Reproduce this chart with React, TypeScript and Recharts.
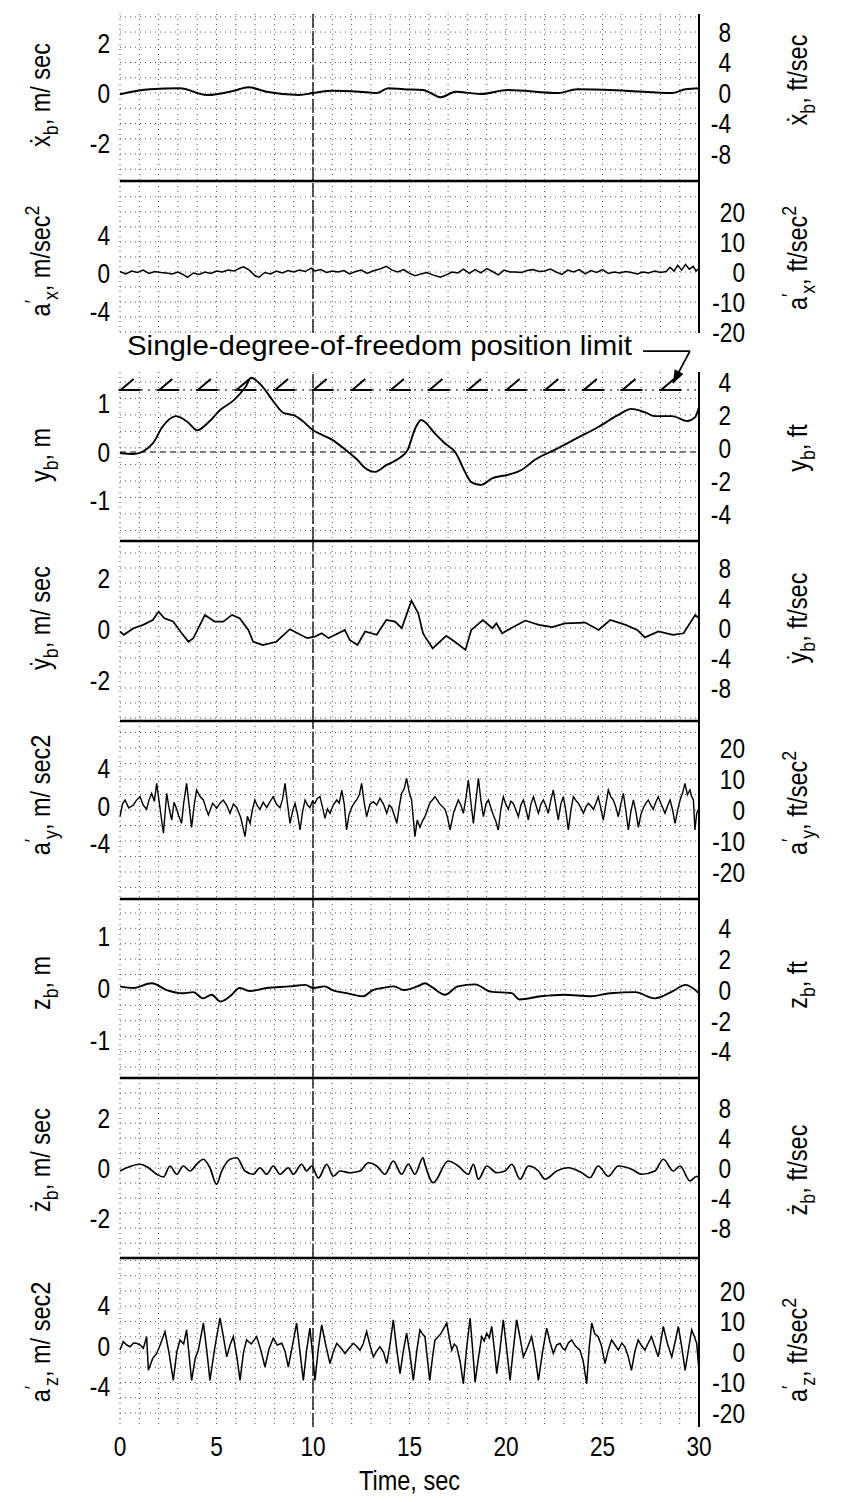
import React from 'react';
import { LineChart, Line, XAxis, YAxis, CartesianGrid, ReferenceLine } from 'recharts';

const FONT = '"Liberation Sans", Arial, sans-serif';
const TICK_FS = 27;
const TITLE_FS = 28;
const SQUEEZE = 0.84; // narrow the glyphs like the condensed type of the original

// time axis
const timeTicks = [0, 5, 10, 15, 20, 25, 30];
const secondLines = Array.from({ length: 31 }, (_, i) => i);

// x-dot body, m/sec
const xbDot: [number, number][] = [
  [0, -0.05], [1.55, 0.15], [3.1, 0.19], [4.5, -0.08], [5.9, 0.09], [6.65, 0.23], [7.6, 0.05],
  [9.3, -0.08], [10, 0], [11, 0.09], [12.4, 0.05], [13.3, 0], [13.9, 0.19], [14.7, 0.15],
  [15.7, 0.12], [16.1, 0.0], [16.6, -0.17], [17.4, 0.05], [18.7, -0.04], [20.1, 0.12], [22.7, 0],
  [23.7, 0.15], [26.2, 0.09], [28.6, 0], [29.3, 0.15], [30, 0.19],
];

// a'x, m/sec^2
const axPrime: [number, number][] = [
  [0, 0.15], [0.3, -0.1], [0.6, 0.2], [0.9, 0.05], [1.2, 0.3], [1.5, -0.05], [1.8, 0.15], [2.1, 0.05],
  [2.4, 0.0], [2.7, -0.1], [3.0, 0.1], [3.3, -0.2], [3.5, -0.45], [3.8, 0.0], [4.1, -0.15], [4.4, 0.1],
  [4.7, -0.05], [5.0, 0.2], [5.3, 0.1], [5.6, 0.3], [5.9, 0.2], [6.2, 0.5], [6.4, 0.65], [6.7, 0.3],
  [7.0, -0.3], [7.2, -0.45], [7.5, 0.05], [7.8, -0.1], [8.1, 0.2], [8.4, 0.0], [8.7, 0.25], [9.0, 0.1],
  [9.3, 0.3], [9.6, 0.15], [9.9, 0.5], [10.1, 0.2], [10.4, 0.35], [10.7, 0.05], [11.0, 0.2], [11.3, 0.1],
  [11.6, 0.25], [11.9, -0.1], [12.2, 0.15], [12.5, 0.3], [12.8, -0.05], [13.1, 0.2], [13.5, 0.45],
  [13.8, 0.7], [14.1, 0.3], [14.4, 0.1], [14.7, 0.35], [15.0, -0.05], [15.3, -0.3], [15.6, -0.1],
  [15.9, 0.05], [16.2, -0.2], [16.6, -0.45], [16.9, -0.2], [17.2, 0.1], [17.5, 0.0], [17.8, 0.4],
  [18.1, -0.05], [18.4, 0.35], [18.7, 0.0], [19.0, 0.45], [19.3, 0.15], [19.6, -0.2], [19.9, 0.3],
  [20.2, 0.1], [20.5, 0.1], [20.8, 0.05], [21.1, 0.25], [21.4, 0.35], [21.7, 0.15], [22.0, 0.2],
  [22.3, 0.4], [22.6, 0.1], [22.9, -0.15], [23.2, 0.3], [23.5, 0.1], [23.8, 0.35], [24.1, -0.1],
  [24.4, 0.25], [24.7, 0.05], [25.0, 0.35], [25.3, -0.05], [25.6, 0.1], [25.9, 0.0], [26.2, 0.15],
  [26.5, 0.05], [26.8, -0.1], [27.1, 0.1], [27.4, 0.0], [27.7, 0.2], [28.0, 0.05], [28.3, 0.15],
  [28.5, 0.6], [28.7, 0.2], [28.9, 0.8], [29.1, 0.3], [29.3, 0.9], [29.5, 0.4], [29.7, 0.7],
  [29.85, 0.2], [30, 0.5],
];

// y body, m
const yb: [number, number][] = [
  [0, -0.02], [0.7, -0.04], [1.7, 0.18], [2.2, 0.52], [2.9, 0.74], [3.5, 0.62], [4.0, 0.45],
  [4.6, 0.62], [5.2, 0.87], [5.9, 1.07], [6.5, 1.34], [6.8, 1.53], [7.4, 1.34], [7.9, 1.07],
  [8.5, 0.8], [9.0, 0.76], [9.4, 0.66], [10.0, 0.45], [10.5, 0.35], [11.0, 0.25], [11.7, 0.04],
  [12.3, -0.16], [12.7, -0.33], [13.2, -0.41], [13.8, -0.27], [14.5, -0.12], [14.9, 0.04],
  [15.3, 0.49], [15.6, 0.66], [15.8, 0.62], [16.3, 0.39], [16.8, 0.19], [17.4, -0.02],
  [17.9, -0.43], [18.2, -0.62], [18.7, -0.68], [19.3, -0.54], [20.1, -0.47], [20.8, -0.37],
  [21.5, -0.16], [22.7, 0.08], [23.7, 0.29], [24.8, 0.52], [25.8, 0.76], [26.5, 0.89], [27.2, 0.82],
  [27.7, 0.74], [28.6, 0.74], [29.4, 0.64], [29.8, 0.72], [30, 0.93],
];

// single-degree-of-freedom position limit
const limitValue = 1.28;
const limitTimes = [0.5, 2.5, 4.5, 6.5, 8.5, 10.5, 12.5, 14.5, 16.5, 18.5, 20.5, 22.5, 24.5, 26.5, 28.5];
const limitLeader = [{ x: 27.1, y: 2.08 }, { x: 29.53, y: 2.08 }];
const limitArrow = [{ x: 29.53, y: 2.08 }, { x: 28.65, y: 1.42 }];

// y-dot body, m/sec
const ybDot: [number, number][] = [
  [0, -0.1], [0.2, -0.23], [0.7, 0.03], [1.2, 0.16], [1.7, 0.35], [2.0, 0.68], [2.3, 0.42],
  [2.75, 0.29], [3.2, -0.17], [3.55, -0.5], [3.8, -0.36], [4.4, 0.55], [4.9, 0.29], [5.35, 0.29],
  [5.8, 0.55], [6.2, 0.42], [6.65, -0.04], [6.9, -0.5], [7.4, -0.63], [8.1, -0.5], [8.8, -0.01],
  [9.2, -0.17], [9.7, -0.36], [10.1, -0.3], [10.45, -0.17], [10.8, -0.36], [11.05, -0.27],
  [11.65, -0.04], [11.9, -0.43], [12.3, -0.63], [12.7, -0.1], [13.3, -0.23], [13.8, 0.35],
  [14.25, 0.29], [14.6, 0.03], [15.1, 1.11], [15.45, 0.62], [15.7, -0.17], [15.8, -0.3],
  [16.2, -0.76], [16.9, -0.27], [17.35, -0.5], [17.9, -0.82], [18.2, -0.04], [18.8, 0.35],
  [19.3, 0.03], [19.5, 0.22], [19.8, -0.17], [20.4, 0.09], [21.0, 0.33], [21.7, 0.16], [22.4, 0.07],
  [23.05, 0.22], [24.1, 0.25], [24.8, -0.04], [25.4, 0.35], [26.2, 0.16], [26.8, -0.04],
  [27.2, -0.33], [27.9, -0.1], [28.65, -0.23], [29.2, -0.17], [29.8, 0.55], [30, 0.42],
];

// a'y, m/sec^2
const ayPrime: [number, number][] = [
  [0, -1.14], [0.13, 0.2], [0.26, 0.64], [0.45, -0.2], [0.69, 0.11], [0.85, 0.6], [1.04, 0.99],
  [1.2, 0.1], [1.38, -0.35], [1.5, 0.6], [1.64, 1.35], [1.78, 0.5], [1.9, 2.41], [2.07, -0.18],
  [2.25, -2.9], [2.42, 1.35], [2.55, -0.3], [2.68, -1.49], [2.8, 0.4], [2.94, -0.35], [3.05, -1.1],
  [3.19, -1.84], [3.3, 0.3], [3.45, 2.41], [3.58, 0.1], [3.71, -2.27], [3.85, 0.2], [3.97, 1.7],
  [4.15, 1.0], [4.32, 0.64], [4.45, -0.2], [4.58, -0.96], [4.8, 0.3], [5.01, -0.25], [5.18, 0.3],
  [5.35, 0.64], [5.52, 0.1], [5.7, -0.78], [5.88, 0.2], [6.05, -0.18], [6.25, -1.2], [6.48, -3.26],
  [6.6, -1.1], [6.74, -1.84], [6.86, -0.4], [6.99, 0.64], [7.12, 0.0], [7.25, -0.35], [7.42, 0.4],
  [7.6, -0.18], [7.78, 0.5], [7.94, 0.99], [8.1, 0.2], [8.29, -0.18], [8.42, 0.7], [8.55, 2.41],
  [8.68, 0.2], [8.81, -1.84], [8.95, -0.5], [9.07, 0.28], [9.2, -0.9], [9.33, -2.55], [9.46, -0.6],
  [9.59, 0.64], [9.72, 0.1], [9.84, -0.18], [9.97, 0.5], [10.1, 0.28], [10.22, 0.8], [10.36, 0.99],
  [10.5, -0.2], [10.62, -1.31], [10.75, -0.3], [10.88, -0.78], [11.05, 0.1], [11.23, 0.64],
  [11.36, 0.3], [11.49, 1.7], [11.62, 0.2], [11.74, -2.55], [11.87, -0.9], [12.0, -0.18],
  [12.13, 0.3], [12.26, 0.64], [12.4, 1.2], [12.52, 2.41], [12.65, 0.4], [12.78, -1.14],
  [12.95, 0.2], [13.13, 0.46], [13.3, 0.1], [13.47, 0.82], [13.65, 0.2], [13.82, -0.78],
  [13.95, 0.1], [14.08, -0.18], [14.2, -0.9], [14.34, -1.84], [14.46, -0.2], [14.59, 1.35],
  [14.72, 1.8], [14.85, 2.94], [14.98, 1.5], [15.11, 0.64], [15.28, -3.26], [15.4, -1.5],
  [15.54, -2.27], [15.67, -1.6], [15.8, -1.14], [16.05, 0.3], [16.32, 0.99], [16.58, 0.2],
  [16.84, -0.35], [16.97, -1.2], [17.1, -2.55], [17.3, -0.6], [17.53, 0.64], [17.66, 0.1],
  [17.79, -0.78], [17.92, 0.8], [18.05, 2.77], [18.18, 0.4], [18.31, -1.84], [18.44, 0.6],
  [18.57, 2.94], [18.7, 0.6], [18.83, -1.14], [18.96, 0.2], [19.09, 0.64], [19.22, -0.2],
  [19.34, -0.96], [19.47, -1.6], [19.6, -2.55], [19.73, -0.4], [19.86, 0.99], [19.99, 0.2],
  [20.12, -0.35], [20.25, 0.5], [20.38, 0.28], [20.51, -0.4], [20.64, -1.14], [20.77, 0.1],
  [20.9, 0.64], [21.03, -0.3], [21.16, -1.49], [21.29, 0.2], [21.42, 0.99], [21.55, 0.1],
  [21.68, -0.78], [21.81, 0.2], [21.94, 0.64], [22.07, 0.0], [22.19, -0.78], [22.32, 0.6],
  [22.45, 1.7], [22.58, 0.1], [22.71, -1.49], [22.84, 0.2], [22.97, 0.99], [23.1, -0.5],
  [23.23, -2.55], [23.36, -0.5], [23.49, 0.99], [23.62, 0.6], [23.75, 0.28], [23.88, -0.2],
  [24.01, -0.78], [24.14, -0.1], [24.27, 0.28], [24.4, 0.0], [24.53, -0.35], [24.66, 0.3],
  [24.78, 0.99], [24.91, -0.2], [25.04, -1.49], [25.17, 0.1], [25.3, 1.7], [25.43, 1.0],
  [25.56, 0.64], [25.69, -0.1], [25.82, -1.14], [25.95, 0.2], [26.08, 1.35], [26.21, -0.5],
  [26.34, -2.55], [26.47, -0.6], [26.6, 0.64], [26.73, -0.6], [26.86, -2.27], [26.99, -0.9],
  [27.12, -0.18], [27.25, 0.3], [27.37, 0.64], [27.5, 0.1], [27.63, -0.35], [27.76, 0.4],
  [27.89, 0.99], [28.06, 0.1], [28.24, -0.78], [28.37, 0.0], [28.5, 0.64], [28.63, -0.4],
  [28.76, -1.84], [28.89, -0.5], [29.02, 0.64], [29.15, 1.4], [29.27, 2.41], [29.4, 1.2],
  [29.53, 1.7], [29.62, 1.0], [29.71, 0.64], [29.79, -2.55], [29.88, -0.8], [29.97, -0.35],
];

// z body, m
const zb: [number, number][] = [
  [0, 0.03], [0.69, 0], [1.64, 0.09], [2.42, -0.04], [3.28, -0.1], [3.8, -0.08], [4.3, -0.2],
  [4.75, -0.13], [5.2, -0.26], [5.7, -0.16], [6.2, 0], [6.74, -0.06], [7.6, 0], [8.8, 0.03],
  [9.6, 0.06], [10, 0], [10.6, 0.03], [11, -0.04], [11.74, -0.1], [12.6, -0.16], [13.1, -0.04],
  [13.6, 0], [14.2, 0.03], [14.7, -0.04], [15.4, 0.03], [15.8, 0.09], [16.15, 0.02], [16.84, -0.13],
  [17.5, 0.03], [18.4, 0.07], [19.2, -0.07], [20.3, -0.1], [20.7, -0.22], [21.8, -0.16],
  [23.0, -0.13], [24.4, -0.16], [25.4, -0.1], [26.7, -0.08], [27.7, -0.2], [28.6, -0.07],
  [29.3, 0.06], [30, -0.1],
];

// z-dot body, m/sec
const zbDot: [number, number][] = [
  [0, -0.12], [0.35, 0.01], [1.04, 0.15], [1.47, 0.01], [1.9, -0.25], [2.25, -0.36], [2.59, 0.08],
  [2.94, -0.25], [3.28, 0.08], [3.63, -0.12], [3.97, 0.15], [4.32, 0.35], [4.66, 0.01], [5.0, -0.65],
  [5.27, -0.12], [5.7, 0.35], [6.05, 0.41], [6.48, -0.12], [6.9, -0.25], [7.25, 0.01], [7.6, -0.25],
  [7.94, 0.08], [8.29, -0.25], [8.72, 0.01], [8.98, -0.25], [9.41, 0.15], [9.67, -0.12], [9.93, 0.08],
  [10.28, -0.4], [10.71, 0.15], [11.05, -0.33], [11.4, -0.12], [11.92, -0.19], [12.43, -0.12],
  [12.87, 0.21], [13.3, 0.08], [13.73, -0.25], [14.16, 0.28], [14.59, -0.25], [14.94, 0.15],
  [15.28, -0.25], [15.7, 0.41], [15.8, 0.15], [16.23, -0.59], [17.0, 0.28], [17.53, 0.08],
  [18.05, -0.25], [18.31, 0.15], [18.57, -0.45], [19.0, 0.08], [19.52, -0.19], [19.95, -0.12],
  [20.3, 0.15], [20.73, -0.45], [21.16, 0.08], [21.68, -0.12], [22.02, -0.45], [22.63, -0.12],
  [23.23, 0.01], [23.92, -0.19], [24.35, -0.39], [24.78, 0.08], [25.3, -0.33], [25.82, 0.08],
  [26.51, -0.05], [27.03, -0.25], [27.72, -0.12], [28.15, 0.35], [28.67, -0.12], [29.02, 0.08],
  [29.53, -0.52], [29.88, -0.33], [30, -0.41],
];

// a'z, m/sec^2
const azPrime: [number, number][] = [
  [0, -0.4], [0.17, 0.43], [0.35, 0.1], [0.52, -0.07], [0.7, 0.3], [0.86, 0.27], [1.05, 0.1],
  [1.21, -0.23], [1.38, 0.93], [1.47, -2.4], [1.7, -1.2], [1.9, -0.73], [2.1, 0.2], [2.33, 1.43],
  [2.55, -0.8], [2.76, -3.4], [2.95, -0.5], [3.11, 0.6], [3.3, 0.2], [3.45, 1.6], [3.71, -3.4],
  [3.9, -1.2], [4.06, -0.4], [4.32, 2.27], [4.5, -0.5], [4.66, -3.4], [4.9, -0.3], [5.18, 2.77],
  [5.35, 1.0], [5.53, -1.07], [5.7, 0.1], [5.87, 0.93], [6.05, -1.0], [6.22, -3.4], [6.4, -0.6],
  [6.56, 0.6], [6.8, 0.2], [7.08, 0.93], [7.3, -0.4], [7.51, -2.07], [7.72, -0.3], [7.94, 0.77],
  [8.15, 0.1], [8.38, 0.27], [8.55, -0.5], [8.72, -2.07], [8.95, 0.2], [9.15, 2.27], [9.32, -0.5],
  [9.5, -3.4], [9.67, -0.4], [9.84, 1.77], [9.97, -0.6], [10.1, -3.4], [10.28, -0.2], [10.45, 2.1],
  [10.65, 0.2], [10.88, -1.73], [11.05, -0.6], [11.23, 0.27], [11.45, -0.2], [11.66, -0.73],
  [11.88, -0.2], [12.09, 0.27], [12.25, 0.0], [12.43, -0.4], [12.6, 0.2], [12.78, 1.43],
  [12.95, 0.1], [13.13, -1.07], [13.3, -0.5], [13.47, -0.07], [13.65, -0.6], [13.82, -1.73],
  [14.0, 0.3], [14.16, 2.6], [14.33, -0.2], [14.51, -2.73], [14.68, -0.5], [14.85, 1.27],
  [15.02, -0.8], [15.2, -3.4], [15.37, -0.6], [15.54, 1.6], [15.67, 1.2], [15.8, 0.93],
  [16.05, -3.4], [16.2, -1.0], [16.32, 0.6], [16.62, 1.2], [16.93, 2.27], [17.06, 0.8], [17.19, -0.4],
  [17.32, 0.2], [17.45, -0.07], [17.62, -1.5], [17.79, -3.73], [17.96, -0.2], [18.14, 2.77],
  [18.27, -0.3], [18.4, -3.57], [18.57, -1.2], [18.74, 0.93], [18.87, 0.5], [19.0, 1.27],
  [19.13, 0.8], [19.26, 1.93], [19.39, -0.2], [19.52, -2.73], [19.69, -0.3], [19.86, 2.6],
  [20.03, -0.2], [20.21, -3.4], [20.38, -0.3], [20.55, 2.6], [20.72, 0.9], [20.9, -1.07],
  [21.1, -0.2], [21.33, 0.93], [21.5, -0.8], [21.68, -3.4], [21.9, -0.5], [22.11, 1.77],
  [22.28, 0.4], [22.45, -0.73], [22.62, 0.1], [22.8, 0.27], [22.93, -0.2], [23.06, -0.4],
  [23.23, 0.3], [23.4, 0.6], [23.6, 0.0], [23.83, -0.4], [24.0, -1.5], [24.18, -3.73],
  [24.31, -0.2], [24.44, 2.27], [24.6, 1.2], [24.78, 0.93], [24.95, 0.0], [25.13, -1.73],
  [25.3, -0.4], [25.47, 0.6], [25.65, 0.1], [25.82, -0.4], [26.0, 0.3], [26.16, -0.07],
  [26.33, -1.0], [26.5, -2.4], [26.68, -0.5], [26.85, 0.6], [27.0, 0.1], [27.2, -0.4],
  [27.37, 0.3], [27.54, 0.93], [27.7, 0.0], [27.89, -1.07], [28.02, 0.4], [28.15, 1.93],
  [28.37, 0.2], [28.59, -1.07], [28.76, 0.4], [28.93, 1.93], [29.1, 0.0], [29.28, -2.4],
  [29.45, -0.4], [29.62, 1.6], [29.75, 1.0], [29.88, 0.27], [30, -2.4],
];

// axis tick labels
const ticksM2 = [-2, 0, 2];
const ticksM4 = [-4, 0, 4];
const ticksM1 = [-1, 0, 1];
const ticksFt8 = [-8, -4, 0, 4, 8];
const ticksFt20 = [-20, -10, 0, 10, 20];
const ticksFt4 = [-4, -2, 0, 2, 4];

type Part = [string, 'n' | 'sub' | 'sup'];

const Title = ({ parts, x, y }: { parts: Part[]; x: number; y: number }) => {
  let shift = 0;
  return (
    <text
      transform={`translate(${x},${y}) rotate(-90) scale(${SQUEEZE},1)`}
      textAnchor="middle"
      fontFamily={FONT}
      fontSize={TITLE_FS}
      fill="#000"
    >
      {parts.map(([s, k], i) => {
        const target = k === 'sub' ? 8 : k === 'sup' ? -11 : 0;
        const dy = target - shift;
        shift = target;
        return (
          <tspan key={i} dy={dy} fontSize={k === 'n' ? TITLE_FS : 21}>
            {s}
          </tspan>
        );
      })}
    </text>
  );
};

const makeTick = (anchor: 'start' | 'middle' | 'end', dy: string) => (props: any) => (
  <text
    transform={`translate(${props.x},${props.y}) scale(${SQUEEZE},1)`}
    dy={dy}
    textAnchor={anchor}
    fontFamily={FONT}
    fontSize={TICK_FS}
    fill="#000"
  >
    {props.payload.value}
  </text>
);

const sideTick = makeTick('end', '0.36em');
const timeTick = makeTick('middle', '0.72em');

type Panel = {
  id: string;
  series: [number, number][];
  curve: 'monotone' | 'linear';
  strokeWidth: number;
  top: number;
  height: number;
  mt: number;
  mb: number;
  mDomain: [number, number];
  mTicks: number[];
  ftDomain: [number, number];
  ftTicks: number[];
  gridStep: number;
  rightEdge: number;
  leftTitle: Part[];
  rightTitle: Part[];
  leftY: number;
  rightY: number;
  topRule: boolean;
  timeAxis?: boolean;
};

const panels: Panel[] = [
  {
    id: 'xbdot', series: xbDot, curve: 'monotone', strokeWidth: 2,
    top: 0, height: 181, mt: 14, mb: 0,
    mDomain: [-3.52, 3.16], mTicks: ticksM2, ftDomain: [-11.55, 10.37], ftTicks: ticksFt8, gridStep: 2, rightEdge: 32,
    leftTitle: [['ẋ', 'n'], ['b', 'sub'], [', m/ sec', 'n']],
    rightTitle: [['ẋ', 'n'], ['b', 'sub'], [',  ft/sec', 'n']],
    leftY: 95, rightY: 80, topRule: false,
  },
  {
    id: 'ax', series: axPrime, curve: 'linear', strokeWidth: 1.5,
    top: 179, height: 168, mt: 2, mb: 14,
    mDomain: [-6.32, 9.68], mTicks: ticksM4, ftDomain: [-20.3, 30.3], ftTicks: ticksFt20, gridStep: 5, rightEdge: 46,
    leftTitle: [['a', 'n'], ['′', 'sup'], ['x', 'sub'], [', m/sec', 'n'], ['2', 'sup']],
    rightTitle: [['a', 'n'], ['′', 'sup'], ['x', 'sub'], [',  ft/sec', 'n'], ['2', 'sup']],
    leftY: 261, rightY: 258, topRule: true,
  },
  {
    id: 'yb', series: yb, curve: 'monotone', strokeWidth: 1.9,
    top: 318, height: 223, mt: 54, mb: 0,
    mDomain: [-1.835, 1.65], mTicks: ticksM1, ftDomain: [-5.64, 4.6], ftTicks: ticksFt4, gridStep: 1, rightEdge: 32,
    leftTitle: [['y', 'n'], ['b', 'sub'], [', m', 'n']],
    rightTitle: [['y', 'n'], ['b', 'sub'], [',  ft', 'n']],
    leftY: 455, rightY: 448, topRule: false,
  },
  {
    id: 'ybdot', series: ybDot, curve: 'linear', strokeWidth: 1.7,
    top: 539, height: 182, mt: 2, mb: 0,
    mDomain: [-3.61, 3.45], mTicks: ticksM2, ftDomain: [-12.4, 11.6], ftTicks: ticksFt8, gridStep: 2, rightEdge: 32,
    leftTitle: [['ẏ', 'n'], ['b', 'sub'], [', m/ sec', 'n']],
    rightTitle: [['ẏ', 'n'], ['b', 'sub'], [',  ft/sec', 'n']],
    leftY: 618, rightY: 618, topRule: true,
  },
  {
    id: 'ay', series: ayPrime, curve: 'linear', strokeWidth: 1.4,
    top: 719, height: 180, mt: 2, mb: 0,
    mDomain: [-9.89, 9.04], mTicks: ticksM4, ftDomain: [-28.7, 28.7], ftTicks: ticksFt20, gridStep: 5, rightEdge: 46,
    leftTitle: [['a', 'n'], ['′', 'sup'], ['y', 'sub'], [', m/ sec2', 'n']],
    rightTitle: [['a', 'n'], ['′', 'sup'], ['y', 'sub'], [',  ft/sec', 'n'], ['2', 'sup']],
    leftY: 795, rightY: 803, topRule: true,
  },
  {
    id: 'zb', series: zb, curve: 'monotone', strokeWidth: 1.9,
    top: 897, height: 181, mt: 2, mb: 0,
    mDomain: [-1.73, 1.71], mTicks: ticksM1, ftDomain: [-5.71, 5.9], ftTicks: ticksFt4, gridStep: 1, rightEdge: 32,
    leftTitle: [['z', 'n'], ['b', 'sub'], [', m', 'n']],
    rightTitle: [['z', 'n'], ['b', 'sub'], [',  ft', 'n']],
    leftY: 983, rightY: 985, topRule: true,
  },
  {
    id: 'zbdot', series: zbDot, curve: 'monotone', strokeWidth: 1.7,
    top: 1076, height: 182, mt: 2, mb: 0,
    mDomain: [-3.6, 3.6], mTicks: ticksM2, ftDomain: [-12, 12], ftTicks: ticksFt8, gridStep: 2, rightEdge: 32,
    leftTitle: [['ż', 'n'], ['b', 'sub'], [', m/ sec', 'n']],
    rightTitle: [['ż', 'n'], ['b', 'sub'], [',  ft/sec', 'n']],
    leftY: 1160, rightY: 1170, topRule: true,
  },
  {
    id: 'az', series: azPrime, curve: 'linear', strokeWidth: 1.5,
    top: 1256, height: 246, mt: 2, mb: 0,
    mDomain: [-8.0, 8.7], mTicks: ticksM4, ftDomain: [-24.6, 30.8], ftTicks: ticksFt20, gridStep: 5, rightEdge: 46,
    leftTitle: [['a', 'n'], ['′', 'sup'], ['z', 'sub'], [', m/ sec2', 'n']],
    rightTitle: [['a', 'n'], ['′', 'sup'], ['z', 'sub'], [',  ft/sec', 'n'], ['2', 'sup']],
    leftY: 1342, rightY: 1350, topRule: true, timeAxis: true,
  },
];

const gridValues = (d: [number, number], step: number) => {
  const out: number[] = [];
  for (let v = Math.ceil(d[0] / step) * step; v <= d[1] + 1e-9; v += step) out.push(v);
  return out;
};

const LimitMark = (props: any) => {
  const { cx, cy, index } = props;
  if (cx == null || cy == null) return <g key={`lm-${index}`} />;
  return (
    <path
      key={`lm-${index}`}
      d={`M${cx - 11},${cy} h22 M${cx - 9},${cy} l13,-11`}
      stroke="#000"
      strokeWidth={2}
      fill="none"
    />
  );
};

const ArrowShape = (p: any) => {
  const { x1, y1, x2, y2 } = p;
  const ang = Math.atan2(y2 - y1, x2 - x1);
  const L = 13;
  const W = 5;
  const bx = x2 - L * Math.cos(ang);
  const by = y2 - L * Math.sin(ang);
  const pts = `${x2},${y2} ${bx + W * Math.sin(ang)},${by - W * Math.cos(ang)} ${bx - W * Math.sin(ang)},${by + W * Math.cos(ang)}`;
  return (
    <g>
      <line x1={x1} y1={y1} x2={x2} y2={y2} stroke="#000" strokeWidth={1.8} />
      <polygon points={pts} fill="#000" />
    </g>
  );
};

const PanelChart = ({ p }: { p: Panel }) => {
  const data = p.series.map(([t, v]) => ({ t, v }));
  const xAxisHeight = p.timeAxis ? 75 : 0;
  return (
    <div style={{ position: 'absolute', left: 0, top: p.top }}>
      <LineChart width={850} height={p.height} margin={{ top: p.mt, right: 0, bottom: p.mb, left: 0 }}>
        <CartesianGrid
          xAxisId="t"
          yAxisId="ft"
          horizontalValues={gridValues(p.ftDomain, p.gridStep)}
          verticalValues={secondLines}
          stroke="#555"
          strokeDasharray="1 4"
          strokeWidth={1}
        />
        <XAxis
          xAxisId="t"
          dataKey="t"
          type="number"
          domain={[0, 30]}
          ticks={timeTicks}
          interval={0}
          hide={!p.timeAxis}
          height={xAxisHeight}
          axisLine={false}
          tickLine={false}
          tickSize={0}
          tickMargin={10}
          tick={timeTick}
          label={
            p.timeAxis
              ? () => (
                  <text
                    transform={`translate(409.5,234) scale(${SQUEEZE},1)`}
                    textAnchor="middle"
                    fontFamily={FONT}
                    fontSize={TITLE_FS}
                    fill="#000"
                  >
                    Time, sec
                  </text>
                )
              : undefined
          }
        />
        <YAxis
          yAxisId="m"
          orientation="left"
          width={120}
          type="number"
          domain={p.mDomain}
          allowDataOverflow
          ticks={p.mTicks}
          interval={0}
          axisLine={false}
          tickLine={false}
          tickSize={0}
          tickMargin={10}
          tick={sideTick}
          label={() => <Title parts={p.leftTitle} x={50} y={p.leftY - p.top} />}
        />
        <YAxis
          yAxisId="ft"
          orientation="right"
          width={151}
          type="number"
          domain={p.ftDomain}
          allowDataOverflow
          ticks={p.ftTicks}
          interval={0}
          axisLine={{ stroke: '#000', strokeWidth: 2 }}
          tickLine={false}
          tickSize={0}
          tickMargin={p.rightEdge}
          tick={sideTick}
          label={() => <Title parts={p.rightTitle} x={807} y={p.rightY - p.top} />}
        />
        {p.topRule && (
          <ReferenceLine
            xAxisId="t"
            yAxisId="m"
            y={p.mDomain[1]}
            stroke="#000"
            strokeWidth={2.5}
            ifOverflow="visible"
          />
        )}
        <ReferenceLine xAxisId="t" yAxisId="m" x={10} stroke="#000" strokeWidth={1.3} strokeDasharray="14 3" />
        {p.id === 'yb' && (
          <ReferenceLine
            xAxisId="t"
            yAxisId="m"
            y={0}
            stroke="#000"
            strokeWidth={1}
            strokeDasharray="6 4"
          />
        )}
        {p.id === 'yb' && (
          <ReferenceLine
            xAxisId="t"
            yAxisId="m"
            y={limitValue}
            stroke="#000"
            strokeWidth={1}
            strokeDasharray="2 5"
          />
        )}
        {p.id === 'yb' && (
          <Line
            xAxisId="t"
            yAxisId="m"
            data={limitTimes.map((t) => ({ t, v: limitValue }))}
            dataKey="v"
            stroke="none"
            dot={LimitMark}
            activeDot={false}
            isAnimationActive={false}
          />
        )}
        {p.id === 'yb' && (
          <ReferenceLine
            xAxisId="t"
            yAxisId="m"
            segment={limitLeader}
            stroke="#000"
            strokeWidth={1.8}
            ifOverflow="visible"
            label={() => (
              <text
                x={127}
                y={355 - p.top}
                fontFamily={FONT}
                fontSize={TITLE_FS}
                fill="#000"
                textLength={505}
                lengthAdjust="spacingAndGlyphs"
              >
                Single-degree-of-freedom position limit
              </text>
            )}
          />
        )}
        {p.id === 'yb' && (
          <ReferenceLine
            xAxisId="t"
            yAxisId="m"
            segment={limitArrow}
            ifOverflow="visible"
            shape={ArrowShape}
          />
        )}
        <Line
          xAxisId="t"
          yAxisId="m"
          data={data}
          dataKey="v"
          type={p.curve}
          stroke="#000"
          strokeWidth={p.strokeWidth}
          dot={false}
          activeDot={false}
          isAnimationActive={false}
        />
      </LineChart>
    </div>
  );
};

export default function App() {
  return (
    <div
      style={{
        position: 'absolute',
        left: 0,
        top: 0,
        width: 850,
        height: 1502,
        background: '#fff',
        fontFamily: FONT,
      }}
    >
      {panels.map((p) => (
        <PanelChart key={p.id} p={p} />
      ))}
    </div>
  );
}
